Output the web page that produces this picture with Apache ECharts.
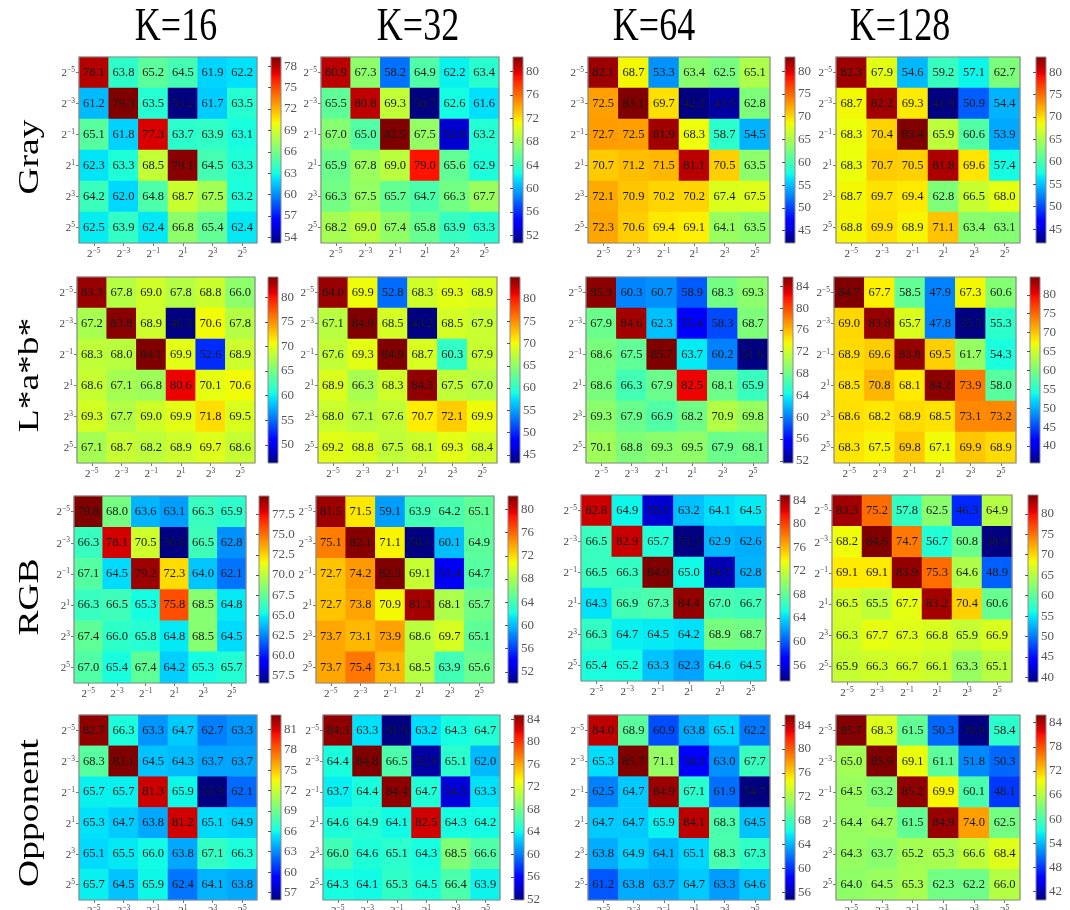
<!DOCTYPE html>
<html><head><meta charset="utf-8">
<script src="https://cdn.jsdelivr.net/npm/echarts@6/dist/echarts.min.js"></script>
<style>html,body{margin:0;padding:0;background:#fff}#c{width:1070px;height:910px}</style>
</head><body><div id="c"></div><script>
// ---------- DATA ----------
const cBase = '2';
const cExponents = ['−5','−3','−1','1','3','5'];
const cLabels = cExponents.map(e => cBase + '^' + e);
const featureNames = ['Gray','L*a*b*','RGB','Opponent'];
const kNames = ['K=16','K=32','K=64','K=128'];

const gray16 = [[78.1,63.8,65.2,64.5,61.9,62.2],[61.2,79.3,63.5,53.2,61.7,63.5],[65.1,61.8,77.3,63.7,63.9,63.1],[62.3,63.3,68.5,79.1,64.5,63.3],[64.2,62.0,64.8,68.7,67.5,63.2],[62.5,63.9,62.4,66.8,65.4,62.4]];
const gray32 = [[80.9,67.3,58.2,64.9,62.2,63.4],[65.5,80.8,69.3,50.7,62.6,61.6],[67.0,65.0,82.5,67.5,52.9,63.2],[65.9,67.8,69.0,79.0,65.6,62.9],[66.3,67.5,65.7,64.7,66.3,67.7],[68.2,69.0,67.4,65.8,63.9,63.3]];
const gray64 = [[82.1,68.7,53.3,63.4,62.5,65.1],[72.5,83.1,69.7,42.3,43.5,62.8],[72.7,72.5,81.9,68.3,58.7,54.5],[70.7,71.2,71.5,81.1,70.5,63.5],[72.1,70.9,70.2,70.2,67.4,67.5],[72.3,70.6,69.4,69.1,64.1,63.5]];
const gray128 = [[82.3,67.9,54.6,59.2,57.1,62.7],[68.7,82.2,69.3,41.9,50.9,54.4],[68.3,70.4,83.4,65.9,60.6,53.9],[68.3,70.7,70.5,81.8,69.6,57.4],[68.7,69.7,69.4,62.8,66.5,68.0],[68.8,69.9,68.9,71.1,63.4,63.1]];

const lab16 = [[83.3,67.8,69.0,67.8,68.8,66.0],[67.2,83.8,68.9,46.3,70.6,67.8],[68.3,68.0,84.1,69.9,52.6,68.9],[68.6,67.1,66.8,80.6,70.1,70.6],[69.3,67.7,69.0,69.9,71.8,69.5],[67.1,68.7,68.2,68.9,69.7,68.6]];
const lab32 = [[84.0,69.9,52.8,68.3,69.3,68.9],[67.1,84.9,68.5,43.2,68.5,67.9],[67.6,69.3,84.9,68.7,60.3,67.9],[68.9,66.3,68.3,84.3,67.5,67.0],[68.0,67.1,67.6,70.7,72.1,69.9],[69.2,68.8,67.5,68.1,69.3,68.4]];
const lab64 = [[85.3,60.3,60.7,58.9,68.3,69.3],[67.9,84.6,62.3,55.4,58.3,68.7],[68.6,67.5,85.7,63.7,60.2,51.6],[68.6,66.3,67.9,82.5,68.1,65.9],[69.3,67.9,66.9,68.2,70.9,69.8],[70.1,68.8,69.3,69.5,67.9,68.1]];
const lab128 = [[84.7,67.7,58.5,47.9,67.3,60.6],[69.0,83.8,65.7,47.8,35.5,55.3],[68.9,69.6,83.8,69.5,61.7,54.3],[68.5,70.8,68.1,84.2,73.9,58.0],[68.6,68.2,68.9,68.5,73.1,73.2],[68.3,67.5,69.8,67.1,69.9,68.9]];

const rgb16 = [[79.8,68.0,63.6,63.1,66.3,65.9],[66.3,78.1,70.5,56.6,66.5,62.8],[67.1,64.5,79.2,72.3,64.0,62.1],[66.3,66.5,65.3,75.8,68.5,64.8],[67.4,66.0,65.8,64.8,68.5,64.5],[67.0,65.4,67.4,64.2,65.3,65.7]];
const rgb32 = [[81.5,71.5,59.1,63.9,64.2,65.1],[75.1,82.1,71.1,50.1,60.1,64.9],[72.7,74.2,82.3,69.1,53.4,64.7],[72.7,73.8,70.9,81.3,68.1,65.7],[73.7,73.1,73.9,68.6,69.7,65.1],[73.7,75.4,73.1,68.5,63.9,65.6]];
const rgb64 = [[82.8,64.9,55.5,63.2,64.1,64.5],[66.5,82.9,65.7,53.3,62.9,62.6],[66.5,66.3,84.9,65.0,54.7,62.8],[64.3,66.9,67.3,84.4,67.0,66.7],[66.3,64.7,64.5,64.2,68.9,68.7],[65.4,65.2,63.3,62.3,64.6,64.5]];
const rgb128 = [[83.3,75.2,57.8,62.5,46.3,64.9],[68.2,84.6,74.7,56.7,60.8,38.9],[69.1,69.1,83.9,75.3,64.6,48.9],[66.5,65.5,67.7,83.2,70.4,60.6],[66.3,67.7,67.3,66.8,65.9,66.9],[65.9,66.3,66.7,66.1,63.3,65.1]];

const opp16 = [[82.7,66.3,63.3,64.7,62.7,63.3],[68.3,83.1,64.5,64.3,63.7,63.7],[65.7,65.7,81.3,65.9,55.9,62.1],[65.3,64.7,63.8,81.2,65.1,64.9],[65.1,65.5,66.0,63.8,67.1,66.3],[65.7,64.5,65.9,62.4,64.1,63.8]];
const opp32 = [[84.3,63.3,51.9,63.2,64.3,64.7],[64.4,84.8,66.5,52.9,65.1,62.0],[63.7,64.4,84.4,64.7,54.5,63.3],[64.6,64.9,64.1,82.5,64.3,64.2],[66.0,64.6,65.1,64.3,68.5,66.6],[64.3,64.1,65.3,64.5,66.4,63.9]];
const opp64 = [[84.0,68.9,60.9,63.8,65.1,62.2],[65.3,85.7,71.1,58.3,63.0,67.7],[62.5,64.7,84.9,67.1,61.9,54.7],[64.7,64.7,65.9,84.1,68.3,64.5],[63.8,64.9,64.1,65.1,68.3,67.3],[61.2,63.8,63.7,64.7,63.3,64.6]];
const opp128 = [[85.7,68.3,61.5,50.3,39.9,58.4],[65.0,85.9,69.1,61.1,51.8,50.3],[64.5,63.2,85.2,69.9,60.1,48.1],[64.4,64.7,61.5,84.9,74.0,62.5],[64.3,63.7,65.2,65.3,66.6,68.4],[64.0,64.5,65.3,62.3,62.2,66.0]];

// colorbar tick values
const ticksGray16 = [54,57,60,63,66,69,72,75,78];
const ticksGray32 = [52,56,60,64,68,72,76,80];
const ticksGray64 = [45,50,55,60,65,70,75,80];
const ticksGray128 = [45,50,55,60,65,70,75,80];
const ticksLab16 = [50,55,60,65,70,75,80];
const ticksLab32 = [45,50,55,60,65,70,75,80];
const ticksLab64 = [52,56,60,64,68,72,76,80,84];
const ticksLab128 = [40,45,50,55,60,65,70,75,80];
const ticksRgb16 = [57.5,60.0,62.5,65.0,67.5,70.0,72.5,75.0,77.5];
const ticksRgb32 = [52,56,60,64,68,72,76,80];
const ticksRgb64 = [56,60,64,68,72,76,80,84];
const ticksRgb128 = [40,45,50,55,60,65,70,75,80];
const ticksOpp16 = [57,60,63,66,69,72,75,78,81];
const ticksOpp32 = [52,56,60,64,68,72,76,80,84];
const ticksOpp64 = [56,60,64,68,72,76,80,84];
const ticksOpp128 = [42,48,54,60,66,72,78,84];

const panelData = [[gray16,gray32,gray64,gray128],[lab16,lab32,lab64,lab128],[rgb16,rgb32,rgb64,rgb128],[opp16,opp32,opp64,opp128]];
const panelTicks = [[ticksGray16,ticksGray32,ticksGray64,ticksGray128],[ticksLab16,ticksLab32,ticksLab64,ticksLab128],[ticksRgb16,ticksRgb32,ticksRgb64,ticksRgb128],[ticksOpp16,ticksOpp32,ticksOpp64,ticksOpp128]];

// ---------- LAYOUT ----------
const HM = [
 [[79,57,178,186],[321,57,178,186],[588,57,182,186],[836,57,184,186]],
 [[77,277,178,186],[318,277,179,186],[586,277,182,186],[834,277,182,186]],
 [[74,496,172,187],[316,496,178,187],[581,495,185,186],[832,495,180,187]],
 [[79,715,178,185],[323,715,177,185],[588,715,182,185],[836,715,184,185]]
];
const CB = [[271,513,785,1036],[268,510,783,1030],[259,508,780,1028],[271,514,785,1036]];
const CBW = 10;
const titleX = [176,418,654,900];
const rowLabelY = [157,375,597,813];
const SERIF = '"Liberation Serif","DejaVu Serif",serif';

// jet colormap (matplotlib)
function interp(pts,t){for(let i=1;i<pts.length;i++){if(t<=pts[i][0]){const a=pts[i-1],b=pts[i];return a[1]+(b[1]-a[1])*(t-a[0])/(b[0]-a[0]);}}return pts[pts.length-1][1];}
const JR=[[0,0],[0.35,0],[0.66,1],[0.89,1],[1,0.5]];
const JG=[[0,0],[0.125,0],[0.375,1],[0.64,1],[0.91,0],[1,0]];
const JB=[[0,0.5],[0.11,1],[0.34,1],[0.65,0],[1,0]];
function jet(t){const r=Math.round(255*interp(JR,t)),g=Math.round(255*interp(JG,t)),b=Math.round(255*interp(JB,t));return 'rgb('+r+','+g+','+b+')';}
const palette=[];for(let i=0;i<256;i++)palette.push(jet(i/255));
const gradStops=[];for(let i=0;i<=100;i++){gradStops.push({offset:i/100,color:jet(1-i/100)});}

const supRich = {
  b:{fontFamily:SERIF,fontSize:11,color:'#444',lineHeight:13,verticalAlign:'bottom'},
  s:{fontFamily:SERIF,fontSize:7.5,color:'#444',lineHeight:8,verticalAlign:'top'}
};
const supFmt = (v,i) => '{b|' + cBase + '}{s|' + cExponents[i] + '}';

const grid=[],xAxis=[],yAxis=[],series=[],visualMap=[],graphic=[];
const cbGrids=[],cbX=[],cbY=[];
let idx=0;
for(let r=0;r<4;r++){for(let c=0;c<4;c++){
  const m=panelData[r][c], ticks=panelTicks[r][c];
  const flat=m.flat(); const vmin=Math.min(...flat), vmax=Math.max(...flat);
  const [L,T,W,H]=HM[r][c];
  const data=[]; m.forEach((row,yi)=>row.forEach((v,xi)=>data.push([xi,yi,v])));
  grid.push({left:L,top:T,width:W,height:H,outerBoundsMode:'none',containLabel:false});
  xAxis.push({type:'category',gridIndex:idx,data:cLabels,position:'bottom',
    axisLine:{show:false},splitLine:{show:false},
    axisTick:{show:true,alignWithLabel:true,interval:0,length:3,lineStyle:{color:'#777'}},
    axisLabel:{formatter:supFmt,rich:supRich,margin:4,interval:0,hideOverlap:false}});
  yAxis.push({type:'category',gridIndex:idx,data:cLabels,inverse:true,position:'left',
    axisLine:{show:false},splitLine:{show:false},
    axisTick:{show:true,alignWithLabel:true,interval:0,length:3,lineStyle:{color:'#777'}},
    axisLabel:{formatter:supFmt,rich:supRich,margin:4,interval:0,hideOverlap:false}});
  series.push({type:'heatmap',xAxisIndex:idx,yAxisIndex:idx,data:data,
    label:{show:true,fontFamily:SERIF,fontSize:12.5,color:'#1a1a1a',formatter:p=>p.value[2].toFixed(1)},
    itemStyle:{borderWidth:0},emphasis:{disabled:true}});
  visualMap.push({type:'continuous',show:false,seriesIndex:idx,dimension:2,min:vmin,max:vmax,inRange:{color:palette}});
  graphic.push({type:'rect',z:100,silent:true,shape:{x:L,y:T,width:W,height:H},style:{fill:'none',stroke:'#8a8a8a',lineWidth:1.2}});
  // colorbar
  const dec = ticks.some(v=>Math.round(v)!==v)?1:0;
  cbGrids.push({left:CB[r][c],top:T,width:CBW,height:H,show:true,outerBoundsMode:'none',containLabel:false,
    backgroundColor:{type:'linear',x:0,y:0,x2:0,y2:1,colorStops:gradStops},borderColor:'#8a8a8a',borderWidth:1});
  cbX.push({type:'value',gridIndex:16+idx,show:false,min:0,max:1});
  cbY.push({type:'value',gridIndex:16+idx,position:'right',min:vmin,max:vmax,
    axisLine:{show:false},splitLine:{show:false},
    axisTick:{show:true,inside:true,length:3,customValues:ticks,lineStyle:{color:'#555'}},
    axisLabel:{show:true,customValues:ticks,formatter:v=>Number(v).toFixed(dec),fontFamily:SERIF,fontSize:13,color:'#555',margin:3}});
  idx++;
}}
kNames.forEach((t,i)=>graphic.push({type:'text',x:titleX[i],y:28,scaleY:1.3,silent:true,
  style:{text:t,font:'36px '+SERIF,fill:'#000',align:'center',verticalAlign:'middle',textAlign:'center',textVerticalAlign:'middle'}}));
featureNames.forEach((t,i)=>graphic.push({type:'text',x:30,y:rowLabelY[i],rotation:Math.PI/2,scaleX:1.25,silent:true,
  style:{text:t,font:'30px '+SERIF,fill:'#000',align:'center',verticalAlign:'middle',textAlign:'center',textVerticalAlign:'middle'}}));

const chart=echarts.init(document.getElementById('c'),null,{renderer:'canvas'});
chart.setOption({
  animation:false,backgroundColor:'#fff',
  grid:grid.concat(cbGrids),xAxis:xAxis.concat(cbX),yAxis:yAxis.concat(cbY),
  visualMap:visualMap,series:series,graphic:{elements:graphic}
});
</script></body></html>
